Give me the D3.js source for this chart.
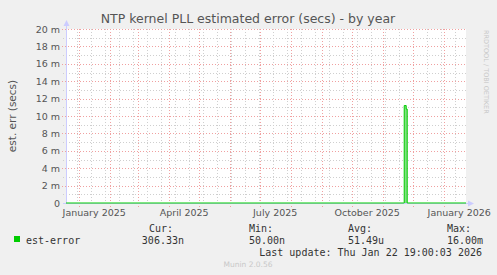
<!DOCTYPE html>
<html>
<head>
<meta charset="utf-8">
<script src="https://cdn.jsdelivr.net/npm/d3@7"></script>
<style>
  body { margin: 0; background: #f0f0f0; }
  text { font-family: "DejaVu Sans", sans-serif; }
  .mono { font-family: "DejaVu Sans Mono", monospace; font-size: 10px; fill: #333; }
</style>
</head>
<body>
<script>
// series: est-error (seconds), sparse points
const times = ["2024-12-18T19:00", "2025-11-21T00:00", "2025-11-22T00:00", "2025-11-24T00:00", "2025-11-25T00:00", "2026-01-22T19:00"];
const values = [0.00000005, 0.00000005, 0.0112, 0.0108, 0.0000003, 0.00000030633];

const yTicks = [0, 0.002, 0.004, 0.006, 0.008, 0.010, 0.012, 0.014, 0.016, 0.018, 0.020];
const yLabels = ["0", "2 m", "4 m", "6 m", "8 m", "10 m", "12 m", "14 m", "16 m", "18 m", "20 m"];

const legendHeads = ["Cur:", "Min:", "Avg:", "Max:"];
const legendVals = ["306.33n", "50.00n", "51.49u", "16.00m"];

const width = 497, height = 275;
const parse = d3.timeParse("%Y-%m-%dT%H:%M");
const data = times.map((t, i) => ({ t: parse(t), v: values[i] }));

const x = d3.scaleTime()
	.domain([parse("2024-12-18T19:00"), parse("2026-01-22T19:00")])
	.range([66, 466]);
const y = d3.scaleLinear().domain([0, 0.02]).range([203, 29]);

const svg = d3.select("body").append("svg")
	.attr("width", width)
	.attr("height", height);

svg.append("rect").attr("width", width).attr("height", height).attr("fill", "#f0f0f0");
svg.append("rect").attr("x", 66).attr("y", 29).attr("width", 400).attr("height", 174).attr("fill", "#fff");

// minor grid
const [x0, x1] = x.domain();
const minorX = d3.timeMonday.every(1).range(x0, x1).filter(d => d3.timeDay.count(parse("2024-12-30T00:00"), d) % 14 === 0);
const monthsX = d3.timeMonth.range(x0, x1);

svg.append("g").selectAll("line").data(minorX).join("line")
	.attr("x1", d => Math.round(x(d)) + 0.5).attr("x2", d => Math.round(x(d)) + 0.5)
	.attr("y1", 29).attr("y2", 206)
	.attr("stroke", "#cfcfcf").attr("stroke-dasharray", "1,2");

const minorY = d3.range(1, 20, 2).map(d => d / 1000);
svg.append("g").selectAll("line").data(minorY).join("line")
	.attr("x1", 63).attr("x2", 466)
	.attr("y1", d => Math.round(y(d)) + 0.5).attr("y2", d => Math.round(y(d)) + 0.5)
	.attr("stroke", "#cfcfcf").attr("stroke-dasharray", "1,2");

// major grid
svg.append("g").selectAll("line").data(monthsX).join("line")
	.attr("x1", d => Math.round(x(d)) + 0.5).attr("x2", d => Math.round(x(d)) + 0.5)
	.attr("y1", 29).attr("y2", 207)
	.attr("stroke", "#f0a0a0").attr("stroke-dasharray", "1,2");

svg.append("g").selectAll("line").data(yTicks.slice(1)).join("line")
	.attr("x1", 62).attr("x2", 466)
	.attr("y1", d => Math.round(y(d)) + 0.5).attr("y2", d => Math.round(y(d)) + 0.5)
	.attr("stroke", "#f0a0a0").attr("stroke-dasharray", "1,2");

// y labels
svg.append("g").selectAll("text").data(yTicks).join("text")
	.attr("x", 60).attr("y", d => y(d) + 3.5)
	.attr("text-anchor", "end")
	.attr("font-size", 9.5).attr("fill", "#555")
	.text((d, i) => yLabels[i]);

// x labels, centred mid-month like rrdtool
const labelMonths = d3.timeMonth.every(3).range(d3.timeMonth.floor(x0), x1).filter(d => d >= x0);
svg.append("g").selectAll("text").data(labelMonths).join("text")
	.attr("x", d => x(d3.timeDay.offset(d, 15)))
	.attr("y", 216)
	.attr("text-anchor", "middle")
	.attr("font-size", 9.5).attr("fill", "#555")
	.text(d => d3.timeFormat("%B %Y")(d));

// axes
svg.append("line").attr("x1", 66.5).attr("x2", 66.5).attr("y1", 24).attr("y2", 204)
	.attr("stroke", "#ccccff");
svg.append("line").attr("x1", 63).attr("x2", 470).attr("y1", 203.5).attr("y2", 203.5)
	.attr("stroke", "#ccccff");
svg.append("path").attr("d", "M63.5,26 L66.5,20 L69.5,26 Z").attr("fill", "#ccccff");
svg.append("path").attr("d", "M468,200.5 L474,203.5 L468,206.5 Z").attr("fill", "#ccccff");

// series
const area = d3.area().x(d => x(d.t)).y0(y(0)).y1(d => y(d.v)).curve(d3.curveStepAfter);
const line = d3.line().x(d => x(d.t)).y(d => y(d.v)).curve(d3.curveStepAfter);
svg.append("path").datum(data).attr("d", area).attr("fill", "#80e080");
svg.append("path").datum(data).attr("d", line)
	.attr("fill", "none").attr("stroke", "#00cc00").attr("stroke-width", 1);

// title
svg.append("text").attr("x", 248).attr("y", 23)
	.attr("text-anchor", "middle").attr("font-size", 12.5).attr("fill", "#555")
	.text("NTP kernel PLL estimated error (secs) - by year");

svg.append("text")
	.attr("transform", "translate(16,116) rotate(-90)")
	.attr("text-anchor", "middle").attr("font-size", 10.5).attr("fill", "#555")
	.text("est. err (secs)");

svg.append("text")
	.attr("transform", "translate(484,30) rotate(90)")
	.attr("font-size", 6.5).attr("fill", "#c8c8c8")
	.text("RRDTOOL / TOBI OETIKER");

// legend
svg.append("rect").attr("x", 14).attr("y", 236).attr("width", 6).attr("height", 6).attr("fill", "#00cc00");
svg.append("text").attr("class", "mono").attr("x", 26).attr("y", 243.5).text("est-error");

const colX = [149, 249, 348, 447];
const colR = [184, 285, 384, 483];
svg.append("g").selectAll("text").data(legendHeads).join("text")
	.attr("class", "mono").attr("x", (d, i) => colX[i]).attr("y", 232).text(d => d);
svg.append("g").selectAll("text").data(legendVals).join("text")
	.attr("class", "mono").attr("x", (d, i) => colR[i]).attr("y", 243.5)
	.attr("text-anchor", "end").text(d => d);

svg.append("text").attr("class", "mono").attr("x", 482).attr("y", 255.5)
	.attr("text-anchor", "end").text("Last update: Thu Jan 22 19:00:03 2026");

svg.append("text").attr("x", 248).attr("y", 267)
	.attr("text-anchor", "middle").attr("font-size", 7.5).attr("fill", "#c8c8c8")
	.text("Munin 2.0.56");
</script>
</body>
</html>
